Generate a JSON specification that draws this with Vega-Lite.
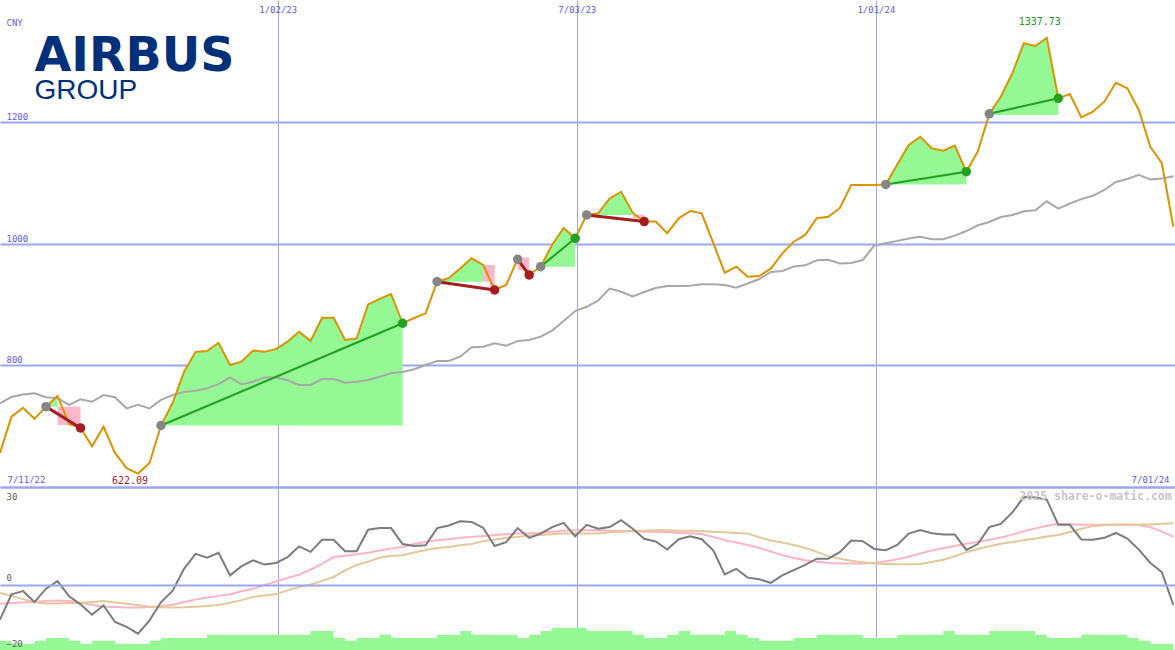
{
 "$schema": "https://vega.github.io/schema/vega-lite/v6.json",
 "padding": 0,
 "background": "white",
 "spacing": 0,
 "bounds": "flush",
 "datasets": {
  "weekly": [
   {"d":"2022-07-17","price":656,"ma":737.5,"osc":-10.7,"s1":-5.8,"s2":-2.5,"vol":2.8},
   {"d":"2022-07-24","price":715.5,"ma":748,"osc":-2.9,"s1":-5.6,"s2":-3.4,"vol":1.9},
   {"d":"2022-07-31","price":730,"ma":752,"osc":-1.9,"s1":-5.4,"s2":-4.4,"vol":1.9},
   {"d":"2022-08-07","price":712,"ma":754,"osc":-5.3,"s1":-5.3,"s2":-5.3,"vol":2.8},
   {"d":"2022-08-14","price":732,"ma":747.5,"osc":-1.2,"s1":-5.0,"s2":-5.7,"vol":3.7},
   {"d":"2022-08-21","price":749.5,"ma":746,"osc":1.1,"s1":-4.8,"s2":-5.7,"vol":3.7},
   {"d":"2022-08-28","price":703.5,"ma":735,"osc":-3.5,"s1":-5.0,"s2":-5.6,"vol":2.8},
   {"d":"2022-09-04","price":697,"ma":744,"osc":-6.0,"s1":-5.5,"s2":-5.6,"vol":1.9},
   {"d":"2022-09-11","price":667,"ma":740,"osc":-9.2,"s1":-6.1,"s2":-5.3,"vol":2.8},
   {"d":"2022-09-18","price":699,"ma":751,"osc":-6.3,"s1":-6.7,"s2":-5.0,"vol":2.8},
   {"d":"2022-09-25","price":656,"ma":747.5,"osc":-11.4,"s1":-6.8,"s2":-5.4,"vol":1.9},
   {"d":"2022-10-02","price":631,"ma":729,"osc":-12.9,"s1":-7.0,"s2":-5.8,"vol":1.9},
   {"d":"2022-10-09","price":622.09,"ma":735,"osc":-15.0,"s1":-7.0,"s2":-6.2,"vol":1.9},
   {"d":"2022-10-16","price":639.5,"ma":729,"osc":-10.9,"s1":-6.8,"s2":-6.7,"vol":2.8},
   {"d":"2022-10-23","price":701,"ma":743,"osc":-5.3,"s1":-6.6,"s2":-6.9,"vol":3.7},
   {"d":"2022-10-30","price":738,"ma":751,"osc":-1.9,"s1":-6.1,"s2":-7.0,"vol":3.7},
   {"d":"2022-11-06","price":789,"ma":756,"osc":4.9,"s1":-5.3,"s2":-6.9,"vol":3.7},
   {"d":"2022-11-13","price":822,"ma":758,"osc":9.5,"s1":-4.5,"s2":-6.7,"vol":3.7},
   {"d":"2022-11-20","price":823.4,"ma":762,"osc":8.3,"s1":-3.9,"s2":-6.5,"vol":4.7},
   {"d":"2022-11-27","price":836.5,"ma":769,"osc":9.8,"s1":-3.4,"s2":-6.2,"vol":4.7},
   {"d":"2022-12-04","price":800.4,"ma":780,"osc":2.9,"s1":-2.9,"s2":-5.5,"vol":4.7},
   {"d":"2022-12-11","price":806,"ma":768.7,"osc":5.7,"s1":-2.0,"s2":-4.7,"vol":4.7},
   {"d":"2022-12-18","price":824,"ma":773,"osc":7.5,"s1":-1.2,"s2":-3.7,"vol":4.7},
   {"d":"2022-12-25","price":822,"ma":780,"osc":6.2,"s1":-0.1,"s2":-3.3,"vol":4.7},
   {"d":"2023-01-01","price":826.7,"ma":780,"osc":6.7,"s1":1.0,"s2":-2.9,"vol":4.7},
   {"d":"2023-01-08","price":838.7,"ma":775.3,"osc":8.5,"s1":2.1,"s2":-1.7,"vol":4.7},
   {"d":"2023-01-15","price":855,"ma":767.6,"osc":11.8,"s1":3.1,"s2":-0.7,"vol":4.7},
   {"d":"2023-01-22","price":840,"ma":767.6,"osc":10.1,"s1":4.7,"s2":0.1,"vol":5.8},
   {"d":"2023-01-29","price":878,"ma":777.4,"osc":13.8,"s1":6.4,"s2":1.2,"vol":5.8},
   {"d":"2023-02-05","price":878,"ma":777.4,"osc":13.8,"s1":8.5,"s2":2.4,"vol":3.7},
   {"d":"2023-02-12","price":841.5,"ma":771.3,"osc":10.3,"s1":8.9,"s2":4.4,"vol":2.8},
   {"d":"2023-02-19","price":844,"ma":773,"osc":10.3,"s1":9.4,"s2":6.1,"vol":3.7},
   {"d":"2023-02-26","price":900,"ma":775.8,"osc":16.9,"s1":9.8,"s2":7.1,"vol":3.7},
   {"d":"2023-03-05","price":909,"ma":781.2,"osc":17.4,"s1":10.5,"s2":8.3,"vol":4.7},
   {"d":"2023-03-12","price":917,"ma":786.8,"osc":17.4,"s1":11.1,"s2":8.9,"vol":3.7},
   {"d":"2023-03-19","price":869,"ma":789,"osc":12.5,"s1":11.7,"s2":9.1,"vol":3.7},
   {"d":"2023-03-26","price":877.6,"ma":793.4,"osc":11.9,"s1":12.5,"s2":9.9,"vol":3.7},
   {"d":"2023-04-02","price":885.3,"ma":800.4,"osc":12.1,"s1":13.1,"s2":10.7,"vol":3.7},
   {"d":"2023-04-09","price":937.3,"ma":807,"osc":17.4,"s1":13.7,"s2":11.3,"vol":4.7},
   {"d":"2023-04-16","price":943,"ma":807,"osc":18.2,"s1":14.0,"s2":11.6,"vol":4.7},
   {"d":"2023-04-23","price":959,"ma":814,"osc":19.5,"s1":14.4,"s2":12.1,"vol":5.8},
   {"d":"2023-04-30","price":975.7,"ma":829.5,"osc":19.3,"s1":14.7,"s2":12.5,"vol":4.7},
   {"d":"2023-05-07","price":964.7,"ma":830.5,"osc":17.5,"s1":15.0,"s2":13.4,"vol":4.7},
   {"d":"2023-05-14","price":923.6,"ma":836,"osc":11.9,"s1":15.3,"s2":13.9,"vol":4.7},
   {"d":"2023-05-21","price":932,"ma":832.1,"osc":13.1,"s1":15.5,"s2":14.4,"vol":4.7},
   {"d":"2023-05-28","price":974,"ma":839.8,"osc":17.4,"s1":15.7,"s2":14.7,"vol":3.7},
   {"d":"2023-06-04","price":948.3,"ma":841.5,"osc":14.4,"s1":15.8,"s2":15.1,"vol":4.7},
   {"d":"2023-06-11","price":962,"ma":847,"osc":15.7,"s1":16.0,"s2":15.3,"vol":5.8},
   {"d":"2023-06-18","price":998,"ma":857,"osc":17.7,"s1":16.3,"s2":15.5,"vol":6.8},
   {"d":"2023-06-25","price":1025.5,"ma":872.7,"osc":19.0,"s1":16.6,"s2":15.7,"vol":6.8},
   {"d":"2023-07-02","price":1008.5,"ma":889,"osc":14.9,"s1":16.7,"s2":15.7,"vol":6.8},
   {"d":"2023-07-09","price":1047,"ma":896,"osc":18.4,"s1":16.7,"s2":15.7,"vol":5.8},
   {"d":"2023-07-16","price":1049.6,"ma":906.4,"osc":17.2,"s1":16.7,"s2":15.7,"vol":5.8},
   {"d":"2023-07-23","price":1074,"ma":926,"osc":17.7,"s1":16.6,"s2":16.1,"vol":5.8},
   {"d":"2023-07-30","price":1085,"ma":920.8,"osc":19.8,"s1":16.5,"s2":16.3,"vol":5.8},
   {"d":"2023-08-06","price":1050.6,"ma":913,"osc":17.2,"s1":16.4,"s2":16.5,"vol":4.7},
   {"d":"2023-08-13","price":1036,"ma":920.3,"osc":14.1,"s1":16.3,"s2":16.6,"vol":3.7},
   {"d":"2023-08-20","price":1036,"ma":927,"osc":13.3,"s1":16.3,"s2":16.7,"vol":3.7},
   {"d":"2023-08-27","price":1017,"ma":930.2,"osc":10.8,"s1":16.2,"s2":16.7,"vol":4.7},
   {"d":"2023-09-03","price":1041.4,"ma":930.2,"osc":14.0,"s1":16.0,"s2":16.6,"vol":5.8},
   {"d":"2023-09-10","price":1053.4,"ma":930.7,"osc":14.9,"s1":15.8,"s2":16.6,"vol":4.7},
   {"d":"2023-09-17","price":1049.6,"ma":933,"osc":14.0,"s1":15.6,"s2":16.5,"vol":4.7},
   {"d":"2023-09-24","price":1001,"ma":933,"osc":10.6,"s1":14.7,"s2":16.3,"vol":4.7},
   {"d":"2023-10-01","price":952,"ma":931.8,"osc":3.2,"s1":13.7,"s2":16.1,"vol":5.8},
   {"d":"2023-10-08","price":962,"ma":927.4,"osc":4.9,"s1":13.0,"s2":15.9,"vol":4.7},
   {"d":"2023-10-15","price":945.5,"ma":934.3,"osc":2.2,"s1":12.2,"s2":15.7,"vol":3.7},
   {"d":"2023-10-22","price":946.6,"ma":941.7,"osc":1.7,"s1":11.3,"s2":14.6,"vol":2.8},
   {"d":"2023-10-29","price":958.6,"ma":953.2,"osc":0.6,"s1":10.2,"s2":13.6,"vol":2.8},
   {"d":"2023-11-05","price":983.4,"ma":954.8,"osc":2.9,"s1":9.1,"s2":13.0,"vol":2.8},
   {"d":"2023-11-12","price":1003,"ma":962.2,"osc":4.5,"s1":8.2,"s2":12.2,"vol":3.7},
   {"d":"2023-11-19","price":1014,"ma":964.2,"osc":6.1,"s1":7.5,"s2":11.3,"vol":3.7},
   {"d":"2023-11-26","price":1041.4,"ma":972.4,"osc":8.0,"s1":7.1,"s2":10.1,"vol":4.7},
   {"d":"2023-12-03","price":1044,"ma":973.4,"osc":8.0,"s1":6.7,"s2":8.8,"vol":4.7},
   {"d":"2023-12-10","price":1058,"ma":967.2,"osc":10.0,"s1":6.5,"s2":8.0,"vol":4.7},
   {"d":"2023-12-17","price":1096,"ma":968.1,"osc":13.6,"s1":6.5,"s2":7.4,"vol":4.7},
   {"d":"2023-12-24","price":1096,"ma":972.9,"osc":13.4,"s1":6.5,"s2":6.9,"vol":3.7},
   {"d":"2023-12-31","price":1096,"ma":996.7,"osc":11.0,"s1":6.7,"s2":6.5,"vol":3.7},
   {"d":"2024-01-07","price":1097,"ma":1000.3,"osc":10.6,"s1":7.2,"s2":6.4,"vol":3.7},
   {"d":"2024-01-14","price":1129.6,"ma":1004.3,"osc":12.2,"s1":7.8,"s2":6.3,"vol":4.7},
   {"d":"2024-01-21","price":1161.8,"ma":1008.2,"osc":15.7,"s1":8.6,"s2":6.3,"vol":4.7},
   {"d":"2024-01-28","price":1175.4,"ma":1011.2,"osc":16.8,"s1":9.6,"s2":6.4,"vol":4.7},
   {"d":"2024-02-04","price":1156.4,"ma":1006.9,"osc":15.8,"s1":10.5,"s2":7.0,"vol":4.7},
   {"d":"2024-02-11","price":1152.4,"ma":1006.9,"osc":15.4,"s1":11.2,"s2":7.7,"vol":5.8},
   {"d":"2024-02-18","price":1160.7,"ma":1013,"osc":15.4,"s1":11.9,"s2":8.8,"vol":4.7},
   {"d":"2024-02-25","price":1118,"ma":1020.5,"osc":10.7,"s1":12.6,"s2":10.0,"vol":4.7},
   {"d":"2024-03-03","price":1151,"ma":1030,"osc":12.5,"s1":13.2,"s2":11.0,"vol":4.7},
   {"d":"2024-03-10","price":1213,"ma":1035.3,"osc":17.7,"s1":13.8,"s2":11.8,"vol":5.8},
   {"d":"2024-03-17","price":1241,"ma":1043.5,"osc":18.7,"s1":14.5,"s2":12.6,"vol":5.8},
   {"d":"2024-03-24","price":1279.6,"ma":1046.7,"osc":22.2,"s1":15.4,"s2":13.1,"vol":5.8},
   {"d":"2024-03-31","price":1328.9,"ma":1052.9,"osc":26.9,"s1":16.4,"s2":13.7,"vol":5.8},
   {"d":"2024-04-07","price":1324.4,"ma":1054.7,"osc":26.8,"s1":17.3,"s2":14.2,"vol":4.7},
   {"d":"2024-04-14","price":1337.73,"ma":1069.3,"osc":26.1,"s1":18.1,"s2":14.8,"vol":3.7},
   {"d":"2024-04-21","price":1238.5,"ma":1057.2,"osc":18.4,"s1":18.7,"s2":15.3,"vol":3.7},
   {"d":"2024-04-28","price":1245.6,"ma":1065.7,"osc":18.4,"s1":18.6,"s2":16.2,"vol":3.7},
   {"d":"2024-05-05","price":1207,"ma":1072.9,"osc":13.9,"s1":18.4,"s2":17.2,"vol":4.7},
   {"d":"2024-05-12","price":1216.5,"ma":1078.4,"osc":13.8,"s1":18.4,"s2":18.0,"vol":4.7},
   {"d":"2024-05-19","price":1233,"ma":1087.9,"osc":14.4,"s1":18.4,"s2":18.3,"vol":4.7},
   {"d":"2024-05-26","price":1264,"ma":1101,"osc":15.9,"s1":18.4,"s2":18.5,"vol":4.7},
   {"d":"2024-06-02","price":1255,"ma":1106,"osc":14.2,"s1":18.5,"s2":18.5,"vol":3.7},
   {"d":"2024-06-09","price":1219.3,"ma":1112.8,"osc":10.8,"s1":18.3,"s2":18.5,"vol":2.8},
   {"d":"2024-06-16","price":1159,"ma":1105,"osc":6.7,"s1":17.7,"s2":18.5,"vol":1.9},
   {"d":"2024-06-23","price":1131.8,"ma":1106.6,"osc":3.9,"s1":16.3,"s2":18.7,"vol":1.9},
   {"d":"2024-06-30","price":1027.6,"ma":1110.4,"osc":-6.2,"s1":14.8,"s2":18.9,"vol":1.9}
  ],
  "gains": [
   {"t":1,"d":"2022-08-14","p":732,"e":732},{"t":1,"d":"2022-08-21","p":749.5,"e":732},
   {"t":2,"d":"2022-10-23","p":701,"e":701},{"t":2,"d":"2022-10-30","p":738,"e":701},{"t":2,"d":"2022-11-06","p":789,"e":701},{"t":2,"d":"2022-11-13","p":822,"e":701},{"t":2,"d":"2022-11-20","p":823.4,"e":701},{"t":2,"d":"2022-11-27","p":836.5,"e":701},{"t":2,"d":"2022-12-04","p":800.4,"e":701},{"t":2,"d":"2022-12-11","p":806,"e":701},{"t":2,"d":"2022-12-18","p":824,"e":701},{"t":2,"d":"2022-12-25","p":822,"e":701},{"t":2,"d":"2023-01-01","p":826.7,"e":701},{"t":2,"d":"2023-01-08","p":838.7,"e":701},{"t":2,"d":"2023-01-15","p":855,"e":701},{"t":2,"d":"2023-01-22","p":840,"e":701},{"t":2,"d":"2023-01-29","p":878,"e":701},{"t":2,"d":"2023-02-05","p":878,"e":701},{"t":2,"d":"2023-02-12","p":841.5,"e":701},{"t":2,"d":"2023-02-19","p":844,"e":701},{"t":2,"d":"2023-02-26","p":900,"e":701},{"t":2,"d":"2023-03-05","p":909,"e":701},{"t":2,"d":"2023-03-12","p":917,"e":701},{"t":2,"d":"2023-03-19","p":869,"e":701},
   {"t":3,"d":"2023-04-09","p":937.3,"e":937.3},{"t":3,"d":"2023-04-16","p":943,"e":937.3},{"t":3,"d":"2023-04-23","p":959,"e":937.3},{"t":3,"d":"2023-04-30","p":975.7,"e":937.3},{"t":3,"d":"2023-05-07","p":964.7,"e":937.3},
   {"t":5,"d":"2023-06-11","p":962,"e":962},{"t":5,"d":"2023-06-18","p":998,"e":962},{"t":5,"d":"2023-06-25","p":1025.5,"e":962},{"t":5,"d":"2023-07-02","p":1008.5,"e":962},
   {"t":6,"d":"2023-07-09","p":1047,"e":1047},{"t":6,"d":"2023-07-16","p":1049.6,"e":1047},{"t":6,"d":"2023-07-23","p":1074,"e":1047},{"t":6,"d":"2023-07-30","p":1085,"e":1047},{"t":6,"d":"2023-08-06","p":1050.6,"e":1047},
   {"t":7,"d":"2024-01-07","p":1097,"e":1097},{"t":7,"d":"2024-01-14","p":1129.6,"e":1097},{"t":7,"d":"2024-01-21","p":1161.8,"e":1097},{"t":7,"d":"2024-01-28","p":1175.4,"e":1097},{"t":7,"d":"2024-02-04","p":1156.4,"e":1097},{"t":7,"d":"2024-02-11","p":1152.4,"e":1097},{"t":7,"d":"2024-02-18","p":1160.7,"e":1097},{"t":7,"d":"2024-02-25","p":1118,"e":1097},
   {"t":8,"d":"2024-03-10","p":1213,"e":1211},{"t":8,"d":"2024-03-17","p":1241,"e":1211},{"t":8,"d":"2024-03-24","p":1279.6,"e":1211},{"t":8,"d":"2024-03-31","p":1328.9,"e":1211},{"t":8,"d":"2024-04-07","p":1324.4,"e":1211},{"t":8,"d":"2024-04-14","p":1337.73,"e":1211},{"t":8,"d":"2024-04-21","p":1238.5,"e":1211}
  ],
  "losses": [
   {"d1":"2022-08-21","d2":"2022-09-04","top":732,"bottom":702},
   {"d1":"2023-05-07","d2":"2023-05-14","top":964.7,"bottom":937.3},
   {"d1":"2023-05-11","d2":"2023-05-14","top":937.3,"bottom":927},
   {"d1":"2023-05-28","d2":"2023-06-04","top":977,"bottom":956.5},
   {"d1":"2023-08-06","d2":"2023-08-13","top":1047,"bottom":1042}
  ],
  "trades": [
   {"d1":"2022-08-14","p1":732,"d2":"2022-09-04","p2":697,"result":"loss"},
   {"d1":"2022-10-23","p1":701,"d2":"2023-03-19","p2":869,"result":"win"},
   {"d1":"2023-04-09","p1":937.3,"d2":"2023-05-14","p2":923.6,"result":"loss"},
   {"d1":"2023-05-28","p1":974,"d2":"2023-06-04","p2":948.3,"result":"loss"},
   {"d1":"2023-06-11","p1":962,"d2":"2023-07-02","p2":1008.5,"result":"win"},
   {"d1":"2023-07-09","p1":1047,"d2":"2023-08-13","p2":1036,"result":"loss"},
   {"d1":"2024-01-07","p1":1097,"d2":"2024-02-25","p2":1118,"result":"win"},
   {"d1":"2024-03-10","p1":1213,"d2":"2024-04-21","p2":1238.5,"result":"win"}
  ],
  "dots": [
   {"d":"2022-08-14","p":732,"kind":"entry"},{"d":"2022-09-04","p":697,"kind":"loss"},
   {"d":"2022-10-23","p":701,"kind":"entry"},{"d":"2023-03-19","p":869,"kind":"win"},
   {"d":"2023-04-09","p":937.3,"kind":"entry"},{"d":"2023-05-14","p":923.6,"kind":"loss"},
   {"d":"2023-05-28","p":974,"kind":"entry"},{"d":"2023-06-04","p":948.3,"kind":"loss"},
   {"d":"2023-06-11","p":962,"kind":"entry"},{"d":"2023-07-02","p":1008.5,"kind":"win"},
   {"d":"2023-07-09","p":1047,"kind":"entry"},{"d":"2023-08-13","p":1036,"kind":"loss"},
   {"d":"2024-01-07","p":1097,"kind":"entry"},{"d":"2024-02-25","p":1118,"kind":"win"},
   {"d":"2024-03-10","p":1213,"kind":"entry"},{"d":"2024-04-21","p":1238.5,"kind":"win"}
  ]
 },
 "vconcat": [
  {
   "width": 1175,
   "height": 487,
   "layer": [
    {
     "data": {"name": "gains"},
     "mark": {"type": "area", "color": "#95f895", "opacity": 1, "clip": true},
     "encoding": {
      "x": {"field": "d", "type": "temporal", "scale": {"type": "utc", "domain": [{"year": 2022, "month": 7, "date": 17, "utc": true}, {"year": 2024, "month": 7, "date": 1, "utc": true}]}, "axis": {"orient": "top", "values": [{"year": 2023, "month": 1, "date": 2, "utc": true}, {"year": 2023, "month": 7, "date": 3, "utc": true}, {"year": 2024, "month": 1, "date": 1, "utc": true}], "labelExpr": "utcFormat(datum.value, '%-m/%d/%y')", "grid": true, "gridColor": "#9ea6f2", "gridWidth": 1, "domain": false, "ticks": false, "tickSize": 0, "labelPadding": -12, "labelBaseline": "alphabetic", "labelOverlap": false, "title": null}},
      "y": {"field": "p", "type": "quantitative", "scale": {"domain": [600, 1400], "nice": false, "zero": false}, "axis": {"values": [800, 1000, 1200], "format": "d", "grid": true, "gridColor": "#9ea6f2", "gridWidth": 2, "domain": false, "ticks": false, "tickSize": 0, "labelAlign": "left", "labelBaseline": "alphabetic", "labelPadding": -6, "labelOffset": -2.5, "title": "CNY", "titleAngle": 0, "titleAlign": "left", "titleBaseline": "alphabetic", "titleX": 6, "titleY": 25, "titleColor": "#5b5bf0", "titleFont": "DejaVu Sans Mono", "titleFontSize": 9, "titleFontWeight": "normal"}},
      "y2": {"field": "e"},
      "detail": {"field": "t"}
     }
    },
    {
     "data": {"name": "losses"},
     "mark": {"type": "rect", "color": "#ffb6c8", "clip": true},
     "encoding": {
      "x": {"field": "d1", "type": "temporal"},
      "x2": {"field": "d2"},
      "y": {"field": "top", "type": "quantitative"},
      "y2": {"field": "bottom"}
     }
    },
    {
     "data": {"name": "weekly"},
     "mark": {"type": "line", "color": "#a8a8a8", "strokeWidth": 2, "clip": true},
     "encoding": {
      "x": {"field": "d", "type": "temporal"},
      "y": {"field": "ma", "type": "quantitative"}
     }
    },
    {
     "data": {"name": "weekly"},
     "mark": {"type": "line", "color": "#dc9300", "strokeWidth": 2, "clip": true},
     "encoding": {
      "x": {"field": "d", "type": "temporal"},
      "y": {"field": "price", "type": "quantitative"}
     }
    },
    {
     "data": {"name": "trades"},
     "mark": {"type": "rule", "clip": true},
     "encoding": {
      "x": {"field": "d1", "type": "temporal"},
      "x2": {"field": "d2"},
      "y": {"field": "p1", "type": "quantitative"},
      "y2": {"field": "p2"},
      "color": {"condition": {"test": "datum.result == 'win'", "value": "#22a022"}, "value": "#a51d1d"},
      "strokeWidth": {"condition": {"test": "datum.result == 'win'", "value": 2}, "value": 3}
     }
    },
    {
     "data": {"name": "dots"},
     "mark": {"type": "circle", "size": 90, "opacity": 1, "clip": true},
     "encoding": {
      "x": {"field": "d", "type": "temporal"},
      "y": {"field": "p", "type": "quantitative"},
      "color": {"condition": [{"test": "datum.kind == 'entry'", "value": "#858585"}, {"test": "datum.kind == 'win'", "value": "#22a022"}], "value": "#a51d1d"}
     }
    },
    {
     "data": {"values": [{"d": "2022-10-09", "p": 622.09, "label": "622.09"}]},
     "mark": {"type": "text", "font": "DejaVu Sans Mono", "fontSize": 10, "baseline": "alphabetic", "align": "center", "dx": -8, "dy": 10, "color": "#a52525"},
     "encoding": {
      "x": {"field": "d", "type": "temporal"},
      "y": {"field": "p", "type": "quantitative"},
      "text": {"field": "label"}
     }
    },
    {
     "data": {"values": [{"d": "2024-04-14", "p": 1337.73, "label": "1337.73"}]},
     "mark": {"type": "text", "font": "DejaVu Sans Mono", "fontSize": 10, "baseline": "alphabetic", "align": "center", "dx": -7, "dy": -13, "color": "#229a22"},
     "encoding": {
      "x": {"field": "d", "type": "temporal"},
      "y": {"field": "p", "type": "quantitative"},
      "text": {"field": "label"}
     }
    },
    {
     "data": {"values": [{"d": "2022-08-07", "p": 1283, "label": "AIRBUS"}]},
     "mark": {"type": "text", "font": "DejaVu Sans", "fontSize": 47.5, "fontWeight": "bold", "baseline": "alphabetic", "align": "left", "color": "#00307a"},
     "encoding": {
      "x": {"field": "d", "type": "temporal"},
      "y": {"field": "p", "type": "quantitative"},
      "text": {"field": "label"}
     }
    },
    {
     "data": {"values": [{"d": "2022-08-07", "p": 1237.5, "label": "GROUP"}]},
     "mark": {"type": "text", "font": "Liberation Sans", "fontSize": 28, "baseline": "alphabetic", "align": "left", "color": "#00307a"},
     "encoding": {
      "x": {"field": "d", "type": "temporal"},
      "y": {"field": "p", "type": "quantitative"},
      "text": {"field": "label"}
     }
    }
   ]
  },
  {
   "width": 1175,
   "height": 163,
   "layer": [
    {
     "data": {"name": "weekly"},
     "mark": {"type": "area", "interpolate": "step-after", "color": "#95f895", "opacity": 1, "clip": true},
     "encoding": {
      "x": {"field": "d", "type": "temporal", "scale": {"type": "utc", "domain": [{"year": 2022, "month": 7, "date": 17, "utc": true}, {"year": 2024, "month": 7, "date": 1, "utc": true}]}, "axis": {"orient": "top", "values": [{"year": 2022, "month": 7, "date": 17, "utc": true}, {"year": 2023, "month": 1, "date": 2, "utc": true}, {"year": 2023, "month": 7, "date": 3, "utc": true}, {"year": 2024, "month": 1, "date": 1, "utc": true}, {"year": 2024, "month": 7, "date": 1, "utc": true}], "labelExpr": "datum.value < 1660000000000 ? '7/11/22' : (datum.value > 1710000000000 ? utcFormat(datum.value, '%-m/%d/%y') : '')", "labelAlign": {"condition": {"test": "datum.value < 1660000000000", "value": "left"}, "value": "right"}, "labelOffset": {"condition": {"test": "datum.value < 1660000000000", "value": 7}, "value": -6}, "grid": true, "gridColor": "#9ea6f2", "gridWidth": 1, "gridOpacity": {"condition": {"test": "datum.value < 1660000000000 || datum.value > 1710000000000", "value": 0}, "value": 1}, "domain": true, "domainColor": "#9ea6f2", "domainWidth": 2, "ticks": false, "tickSize": 0, "labelPadding": 4.5, "labelBaseline": "alphabetic", "labelOverlap": false, "title": null}},
      "y": {"field": "vol", "type": "quantitative", "axis": null, "scale": {"domain": [0, 50], "nice": false, "zero": false}},
      "y2": {"datum": 0}
     }
    },
    {
     "data": {"name": "weekly"},
     "mark": {"type": "line", "color": "#ffb3c6", "strokeWidth": 2, "clip": true},
     "encoding": {
      "x": {"field": "d", "type": "temporal"},
      "y": {"field": "s1", "type": "quantitative", "axis": null, "scale": {"domain": [-20, 30], "nice": false, "zero": false}}
     }
    },
    {
     "data": {"name": "weekly"},
     "mark": {"type": "line", "color": "#e3c89a", "strokeWidth": 2, "clip": true},
     "encoding": {
      "x": {"field": "d", "type": "temporal"},
      "y": {"field": "s2", "type": "quantitative", "axis": null, "scale": {"domain": [-20, 30], "nice": false, "zero": false}}
     }
    },
    {
     "data": {"name": "weekly"},
     "mark": {"type": "line", "color": "#7c7c7c", "strokeWidth": 2, "clip": true},
     "encoding": {
      "x": {"field": "d", "type": "temporal"},
      "y": {"field": "osc", "type": "quantitative", "scale": {"domain": [-20, 30], "nice": false, "zero": false}, "axis": {"values": [-20, 0, 30], "zindex": 1, "grid": true, "gridColor": "#9ea6f2", "gridWidth": 2, "gridOpacity": {"condition": {"test": "datum.value == -20", "value": 0}, "value": 1}, "domain": false, "ticks": false, "tickSize": 0, "labelAlign": "left", "labelBaseline": {"condition": {"test": "datum.value == 30", "value": "top"}, "value": "alphabetic"}, "labelOffset": {"condition": {"test": "datum.value == 30", "value": 5}, "value": -4}, "labelPadding": -6, "labelColor": "#606060", "title": null}}
     }
    },
    {
     "data": {"values": [{"d": "2024-06-29", "v": 25.9, "label": "2025 share-o-matic.com"}]},
     "mark": {"type": "text", "font": "DejaVu Sans Mono", "fontSize": 11.5, "fontWeight": "bold", "baseline": "alphabetic", "align": "right", "color": "#c6c6c6"},
     "encoding": {
      "x": {"field": "d", "type": "temporal"},
      "y": {"field": "v", "type": "quantitative", "axis": null, "scale": {"domain": [-20, 30], "nice": false, "zero": false}},
      "text": {"field": "label"}
     }
    }
   ],
   "resolve": {"scale": {"y": "independent"}}
  }
 ],
 "config": {
  "view": {"stroke": null},
  "axis": {"labelFont": "DejaVu Sans Mono", "labelFontSize": 9, "labelColor": "#5b5bf0", "titleFont": "DejaVu Sans Mono", "gridColor": "#9ea6f2", "minExtent": 0, "maxExtent": 0}
 }
}
